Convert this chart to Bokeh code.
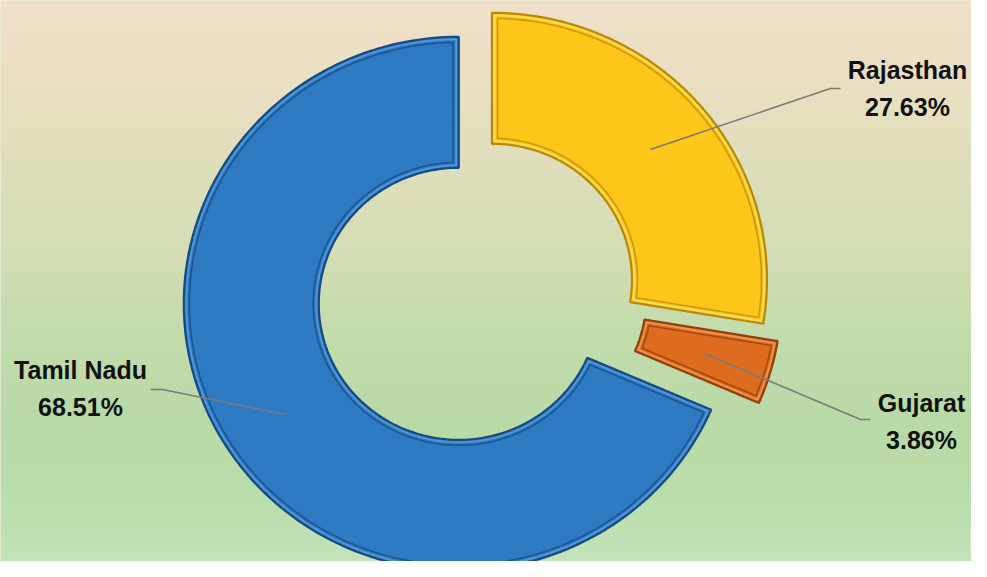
import numpy as np
from bokeh.plotting import figure
from bokeh.models import Range1d, ColumnDataSource
from bokeh.core.properties import value
from bokeh.embed import file_html
from bokeh.resources import INLINE

# ---------------- data ----------------
states = ["Rajasthan", "Gujarat", "Tamil Nadu"]
shares = [27.63, 3.86, 68.51]

# ---------------- style / layout ----------------
colors = ["#FDC618", "#DE6C1E", "#2E7BC3"]
edge_colors = ["#B88A06", "#8E400E", "#174A80"]
light_colors = ["#FFE27A", "#F4A060", "#5FA0DE"]
explode = [15, 27, 26]            # px along each slice's mid angle
label_pos = [(907, 473), (921, 140), (80, 173)]
leader_end = [(840, 473), (870, 142), (150, 172)]
leader_elbow = [(830, 473), (860, 142), (162, 172)]

W, H = 971, 561
CX, CY = 480, 272
RX_OUT, RY_OUT = 275, 267
RX_IN, RY_IN = 140, 136
START_DEG = 90.0

p = figure(width=W, height=H, x_range=Range1d(0, W), y_range=Range1d(0, H),
           output_backend="svg", toolbar_location=None, min_border=0)
p.axis.visible = False
p.grid.visible = False
p.outline_line_color = None
p.background_fill_color = "#D8DDB9"
p.border_fill_color = "#D8DDB9"

# background gradient (row 0 = bottom of the frame)
stops_y = np.array([0, 60, 140, 250, 330, 420, 500, 561], dtype=float)   # from top
stops_c = np.array([
    [240, 224, 201],
    [236, 223, 196],
    [226, 223, 190],
    [212, 222, 180],
    [196, 220, 172],
    [184, 218, 166],
    [186, 222, 172],
    [196, 227, 186],
], dtype=float)
ys_top = np.arange(H)[::-1].astype(float)  # row i -> distance from top
rgb = np.stack([np.interp(ys_top, stops_y, stops_c[:, k]) for k in range(3)], axis=1).astype(np.uint32)
col = (255 << 24) | (rgb[:, 2] << 16) | (rgb[:, 1] << 8) | rgb[:, 0]
img = np.repeat(col[:, None], 2, axis=1).astype(np.uint32)
p.image_rgba(image=[img], x=0, y=0, dw=W, dh=H)


def ring_poly(cx, cy, a0, a1, inset=0.0, n=160):
    rxo, ryo = RX_OUT - inset, RY_OUT - inset
    rxi, ryi = RX_IN + inset, RY_IN + inset
    d_o = inset / ((rxo + ryo) / 2)
    d_i = inset / ((rxi + ryi) / 2)
    t_o = np.linspace(a0 - d_o, a1 + d_o, n)
    t_i = np.linspace(a1 + d_i, a0 - d_i, n)
    xs = np.concatenate([cx + rxo * np.cos(t_o), cx + rxi * np.cos(t_i)])
    ys = np.concatenate([cy + ryo * np.sin(t_o), cy + ryi * np.sin(t_i)])
    return list(xs), list(ys)


total = sum(shares)
ang = np.deg2rad(START_DEG)
anchors = []
for i, (name, v) in enumerate(zip(states, shares)):
    span = 2 * np.pi * v / total
    a0, a1 = ang, ang - span
    mid = (a0 + a1) / 2
    cx = CX + explode[i] * np.cos(mid)
    cy = CY + explode[i] * np.sin(mid)
    xs, ys = ring_poly(cx, cy, a0, a1)
    p.patch(xs, ys, fill_color=colors[i], line_color=edge_colors[i], line_width=2.2)
    xs2, ys2 = ring_poly(cx, cy, a0, a1, inset=2.5)
    p.patch(xs2, ys2, fill_color=None, line_color=light_colors[i], line_width=1.6, line_alpha=0.8)
    xs3, ys3 = ring_poly(cx, cy, a0, a1, inset=5.5)
    p.patch(xs3, ys3, fill_color=None, line_color=edge_colors[i], line_width=1.6, line_alpha=0.75)
    rmid = 0.755
    anchors.append((cx + rmid * RX_OUT * np.cos(mid), cy + rmid * RY_OUT * np.sin(mid)))
    ang = a1

# leader lines
for i in range(len(states)):
    ax, ay = anchors[i]
    ex, ey = leader_elbow[i]
    lx, ly = leader_end[i]
    p.line([ax, ex, lx], [ay, ey, ly], line_color="#7A7A7A", line_width=1.6)

labels = [f"{s}\n{v:.2f}%" for s, v in zip(states, shares)]
src = ColumnDataSource(dict(x=[q[0] for q in label_pos], y=[q[1] for q in label_pos], t=labels))
p.text(x="x", y="y", text="t", source=src, text_align="center", text_baseline="middle",
       text_font=value("Liberation Sans"),
       text_font_style="bold", text_font_size="25px", text_color="#111111",
       text_line_height=1.3)

open("out.html", "w").write(file_html(p, INLINE))
